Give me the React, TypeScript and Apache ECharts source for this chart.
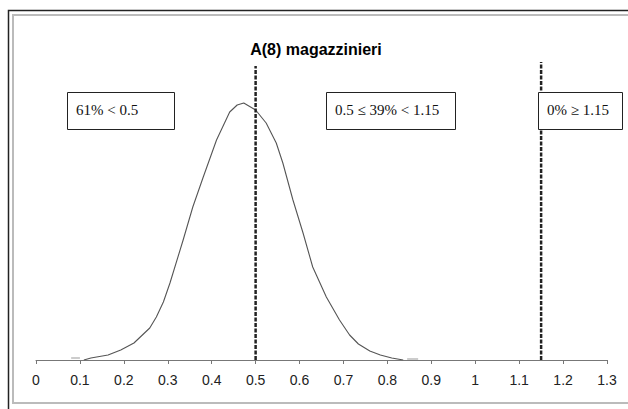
import React, { useEffect, useRef } from "react";
import * as echarts from "echarts";

const title = "A(8) magazzinieri";
const curveX = [0.109, 0.125, 0.164, 0.193, 0.223, 0.259, 0.274, 0.29, 0.305, 0.335, 0.357, 0.38, 0.411, 0.441, 0.458, 0.473, 0.5, 0.524, 0.547, 0.562, 0.585, 0.608, 0.63, 0.661, 0.691, 0.714, 0.734, 0.76, 0.784, 0.81, 0.836];
const curveY = [0, 2, 5, 10, 17, 32, 43, 58, 77, 120, 153, 182, 220, 248, 255, 257, 250, 237, 217, 197, 160, 127, 93, 63, 40, 25, 16, 9, 5, 2, 0];
const stubLeftX = [0.08, 0.1];
const stubLeftY = [2, 2];
const stubRightX = [0.845, 0.87];
const stubRightY = [1, 1];
const thresholds = [0.5, 1.15];
const thresholdTops = [294, 298];
const boxLabels = ["61% < 0.5", "0.5 ≤ 39% < 1.15", "0% ≥ 1.15"];

export default function App() {
  const ref = useRef<HTMLDivElement>(null);
  useEffect(() => {
    if (!ref.current) return;
    const chart = echarts.init(ref.current, null, { renderer: "svg" });
    const curve = curveX.map((x, i) => [x, curveY[i]]);
    const thrSeries = thresholds.map((t, i) => ({
      type: "line",
      data: [[t, 0], [t, thresholdTops[i]]],
      symbol: "none",
      silent: true,
      z: 3,
      lineStyle: { color: "#222", width: 2.5, type: [4, 1.5] },
    }));
    const boxes = [
      { x: 67, y: 92, w: 107 },
      { x: 326, y: 92, w: 129 },
      { x: 538, y: 92, w: 84 },
    ];
    chart.setOption({
      animation: false,
      backgroundColor: "#fff",
      title: {
        text: title,
        left: 311,
        textAlign: "center",
        top: 36,
        textStyle: { fontFamily: "Arial, Liberation Sans", fontSize: 16, fontWeight: "bold", color: "#000" },
      },
      grid: { left: 36, right: 21, top: 60, bottom: 49 },
      xAxis: {
        type: "value",
        min: 0,
        max: 1.3,
        interval: 0.1,
        splitLine: { show: false },
        axisLine: { lineStyle: { color: "#777", width: 1 } },
        axisTick: { show: true, length: 4, lineStyle: { color: "#777" } },
        axisLabel: { fontFamily: "Arial, Liberation Sans", fontSize: 14, color: "#222", margin: 13 },
      },
      yAxis: { type: "value", min: 0, max: 300, show: false, splitLine: { show: false } },
      series: [
        {
          type: "line",
          data: curve,
          symbol: "none",
          lineStyle: { color: "#555", width: 1.1 },
          z: 2,
        },
        {
          type: "line",
          data: stubLeftX.map((x, i) => [x, stubLeftY[i]]),
          symbol: "none",
          lineStyle: { color: "#bbb", width: 1.5 },
        },
        {
          type: "line",
          data: stubRightX.map((x, i) => [x, stubRightY[i]]),
          symbol: "none",
          lineStyle: { color: "#bbb", width: 1.5 },
        },
        ...thrSeries,
      ],
      graphic: [
        { type: "rect", shape: { x: 8.5, y: 10.5, width: 700, height: 500 }, style: { fill: "none", stroke: "#222", lineWidth: 1.5 }, silent: true },
        { type: "rect", shape: { x: 13, y: 15, width: 700, height: 388 }, style: { fill: "none", stroke: "#bbb", lineWidth: 2 }, silent: true },
        ...boxes.map((b, i) => ({
          type: "group",
          z: 10,
          children: [
            { type: "rect", z: 10, shape: { x: b.x + 0.5, y: b.y + 0.5, width: b.w, height: 37 }, style: { fill: "#fff", stroke: "#222", lineWidth: 1 } },
            {
              type: "text",
              z: 11,
              x: b.x + 9,
              y: b.y + 18,
              style: { text: boxLabels[i], fontFamily: "Times New Roman, Liberation Serif", fontSize: 15, fill: "#111", verticalAlign: "middle" },
            },
          ],
        })),
      ],
    });
    return () => chart.dispose();
  }, []);
  return <div ref={ref} style={{ width: 628, height: 409, position: "absolute", left: 0, top: 0 }} />;
}
